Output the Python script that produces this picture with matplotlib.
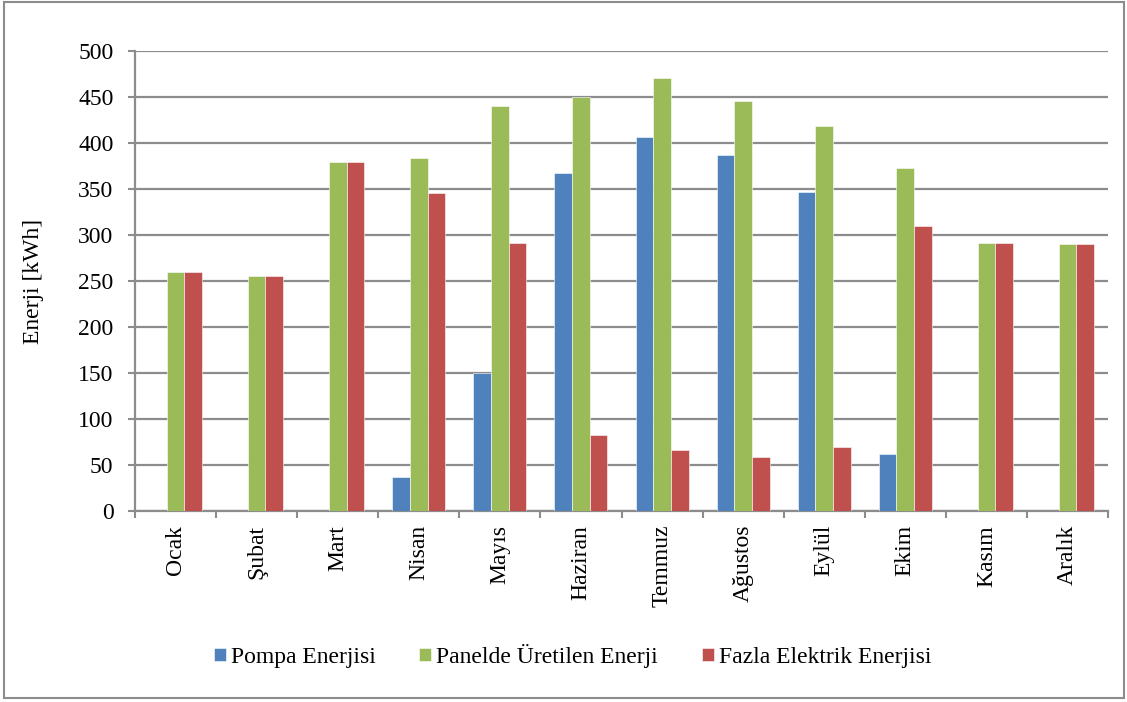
import matplotlib
matplotlib.use("Agg")
import matplotlib.pyplot as plt
import numpy as np
from matplotlib.patches import Rectangle

months = ["Ocak", "Şubat", "Mart", "Nisan", "Mayıs", "Haziran",
          "Temmuz", "Ağustos", "Eylül", "Ekim", "Kasım", "Aralık"]
pompa = [0, 0, 0, 37, 150, 367, 406, 387, 347, 62, 0, 0]
panel = [260, 255, 379, 384, 440, 450, 471, 446, 418, 373, 291, 290]
fazla = [260, 255, 379, 346, 291, 83, 66, 59, 70, 310, 291, 290]
series_names = ["Pompa Enerjisi", "Panelde Üretilen Enerji", "Fazla Elektrik Enerjisi"]
colors = ["#4F81BD", "#9BBB59", "#C0504D"]
yticks = [0, 50, 100, 150, 200, 250, 300, 350, 400, 450, 500]

plt.rcParams["font.family"] = ["Liberation Serif", "DejaVu Serif"]
FS = 17
grid_col = "#8C8C8C"

fig = plt.figure(figsize=(11.27, 7.02), dpi=100)
ax = fig.add_axes([135 / 1127, 1 - 511 / 702, (1108 - 135) / 1127, (511 - 51) / 702])

x = np.arange(len(months))
w = 0.218
for i, (vals, name, c) in enumerate(zip([pompa, panel, fazla], series_names, colors)):
    ax.bar(x + (i - 1) * w, vals, width=w, color=c, label=name,
           edgecolor="white", linewidth=0.4, zorder=3)

ax.set_xlim(-0.5, len(months) - 0.5)
ax.set_ylim(0, 500)
ax.set_yticks(yticks)
ax.yaxis.grid(True, color=grid_col, linewidth=1.6, zorder=0)
ax.set_axisbelow(True)

ax.set_xticks(x)
ax.set_xticklabels(months, rotation=90, fontsize=FS, va="top", ha="center")
ax.tick_params(axis="x", which="major", length=0, pad=10)
ax.set_xticks(np.arange(-0.5, len(months), 1.0), minor=True)
ax.tick_params(axis="x", which="minor", length=5, width=1.5, color=grid_col, direction="out")
ax.tick_params(axis="y", length=5, width=1.5, color=grid_col, labelsize=FS, pad=10.5)

for s in ["top", "right"]:
    ax.spines[s].set_visible(False)
for s in ["left", "bottom"]:
    ax.spines[s].set_color(grid_col)
    ax.spines[s].set_linewidth(1.6)

ax.set_ylabel("Enerji [kWh]", fontsize=FS)
ax.yaxis.set_label_coords((44 - 135) / 973, 0.5)

fig.legend(loc="center", bbox_to_anchor=(572.5 / 1127, 1 - 656 / 702), ncol=3, frameon=False,
           fontsize=FS, handlelength=0.51, handleheight=0.51, handletextpad=0.21,
           columnspacing=1.86)

fig.patches.append(Rectangle((4 / 1127, 1 - 698 / 702), (1124 - 4) / 1127, (698 - 2) / 702,
                             transform=fig.transFigure, fill=False,
                             edgecolor="#8C8C8C", linewidth=1.5))

fig.savefig("out.png", dpi=100)
